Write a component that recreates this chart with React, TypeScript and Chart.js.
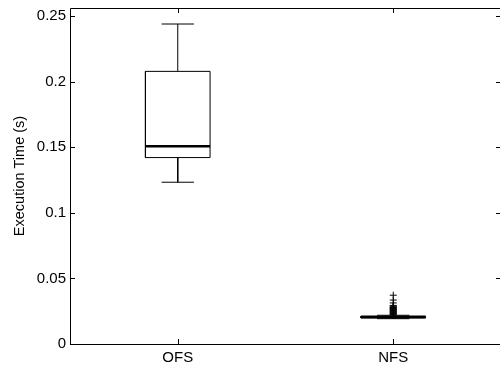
import React, { useEffect, useRef } from "react";
import { Chart, registerables } from "chart.js";
Chart.register(...registerables);

const categories = ["OFS", "NFS"];
const lowerWhisker = [0.1233, 0.0193];
const q1Values = [0.1421, 0.0198];
const medians = [0.1508, 0.0205];
const q3Values = [0.2078, 0.0212];
const upperWhisker = [0.2439, 0.0219];
const nfsOutliers = [
  0.0222, 0.0226, 0.023, 0.0234, 0.0238, 0.0242, 0.0246, 0.025, 0.0254,
  0.0258, 0.0262, 0.0266, 0.027, 0.0274, 0.0278, 0.0283, 0.0288, 0.0294,
  0.0313, 0.0335, 0.0372,
];
const outliers = [[], nfsOutliers];
const yTicks = [0, 0.05, 0.1, 0.15, 0.2, 0.25];
const yMax = 0.2561;

const BOX_HALF = 0.15;
const CAP_HALF = 0.075;
const FONT = "'Liberation Sans', Arial, sans-serif";

function seg(points: { x: number; y: number }[], width = 1) {
  return {
    type: "scatter" as const,
    data: points,
    showLine: true,
    borderColor: "#000",
    borderWidth: width,
    pointRadius: 0,
    fill: false,
  };
}

const framePlugin = {
  id: "frame",
  afterDraw(chart: any) {
    const { ctx, chartArea } = chart;
    const { left, right, top, bottom } = chartArea;
    const xs = chart.scales.x;
    const ys = chart.scales.y;
    ctx.save();
    ctx.strokeStyle = "#000";
    ctx.lineWidth = 1;
    ctx.beginPath();
    ctx.rect(Math.round(left) + 0.5, Math.round(top) + 0.5, Math.round(right - left), Math.round(bottom - top));
    ctx.stroke();
    const tl = 5;
    ctx.beginPath();
    yTicks.forEach((v) => {
      const y = Math.round(ys.getPixelForValue(v)) + 0.5;
      ctx.moveTo(left, y);
      ctx.lineTo(left + tl, y);
      ctx.moveTo(right, y);
      ctx.lineTo(right - tl, y);
    });
    categories.forEach((_, i) => {
      const x = Math.round(xs.getPixelForValue(i + 1)) + 0.5;
      ctx.moveTo(x, bottom);
      ctx.lineTo(x, bottom - tl);
      ctx.moveTo(x, top);
      ctx.lineTo(x, top + tl);
    });
    ctx.stroke();
    ctx.restore();
  },
};

export default function App() {
  const ref = useRef<HTMLCanvasElement | null>(null);
  useEffect(() => {
    if (!ref.current) return;
    const datasets: any[] = [];
    categories.forEach((_, i) => {
      const c = i + 1;
      datasets.push(
        seg([
          { x: c - BOX_HALF, y: q1Values[i] },
          { x: c + BOX_HALF, y: q1Values[i] },
          { x: c + BOX_HALF, y: q3Values[i] },
          { x: c - BOX_HALF, y: q3Values[i] },
          { x: c - BOX_HALF, y: q1Values[i] },
        ])
      );
      datasets.push(seg([{ x: c, y: q3Values[i] }, { x: c, y: upperWhisker[i] }]));
      datasets.push(seg([{ x: c, y: q1Values[i] }, { x: c, y: lowerWhisker[i] }]));
      datasets.push(seg([{ x: c - CAP_HALF, y: upperWhisker[i] }, { x: c + CAP_HALF, y: upperWhisker[i] }]));
      datasets.push(seg([{ x: c - CAP_HALF, y: lowerWhisker[i] }, { x: c + CAP_HALF, y: lowerWhisker[i] }]));
      datasets.push(seg([{ x: c - BOX_HALF, y: medians[i] }, { x: c + BOX_HALF, y: medians[i] }], 2.5));
      if (outliers[i].length) {
        datasets.push({
          type: "scatter",
          data: outliers[i].map((v) => ({ x: c, y: v })),
          showLine: false,
          pointStyle: "cross",
          pointRadius: 3.5,
          borderColor: "#000",
          borderWidth: 1,
          backgroundColor: "#000",
        });
      }
    });
    const chart = new Chart(ref.current, {
      type: "scatter",
      data: { datasets },
      plugins: [framePlugin],
      options: {
        animation: false,
        responsive: false,
        events: [],
        layout: { padding: { top: 8, right: 2, left: 0, bottom: 0 } },
        plugins: { legend: { display: false }, tooltip: { enabled: false } },
        scales: {
          x: {
            type: "linear",
            min: 0.5,
            max: 2.5,
            grid: { display: false, drawTicks: false },
            border: { display: false },
            afterBuildTicks: (s: any) => {
              s.ticks = categories.map((_, i) => ({ value: i + 1 }));
            },
            afterFit: (s: any) => {
              s.height = 23;
              s.paddingLeft = 0;
              s.paddingRight = 0;
            },
            ticks: {
              padding: 5,
              color: "#000",
              font: { family: FONT, size: 15 },
              maxRotation: 0,
              callback: (v: any) => categories[Math.round(Number(v)) - 1] ?? "",
            },
          },
          y: {
            type: "linear",
            min: 0,
            max: yMax,
            grid: { display: false, drawTicks: false },
            border: { display: false },
            afterBuildTicks: (s: any) => {
              s.ticks = yTicks.map((v) => ({ value: v }));
            },
            afterFit: (s: any) => {
              s.width = 70;
              s.paddingTop = 0;
              s.paddingBottom = 0;
            },
            ticks: {
              padding: 4,
              color: "#000",
              font: { family: FONT, size: 15 },
              callback: (v: any) => String(Number(Number(v).toFixed(4))),
            },
            title: {
              display: true,
              text: "Execution Time (s)",
              color: "#000",
              font: { family: FONT, size: 14.5 },
              padding: { top: 11, bottom: 0 },
            },
          },
        },
      },
    });
    return () => chart.destroy();
  }, []);
  return (
    <div style={{ position: "fixed", left: 0, top: 0, width: 500, height: 367, overflow: "hidden", background: "#fff" }}>
      <canvas ref={ref} width={506} height={367} style={{ display: "block" }} />
    </div>
  );
}
